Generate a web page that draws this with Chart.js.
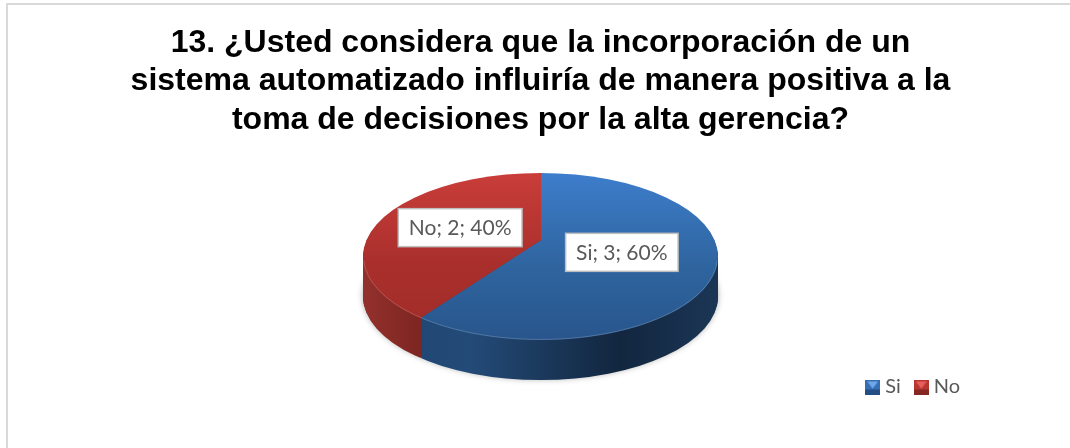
<!DOCTYPE html>
<html>
<head>
<meta charset="utf-8">
<title>13</title>
<script src="https://cdn.jsdelivr.net/npm/chart.js@4"></script>
<style>
  html, body { margin: 0; padding: 0; background: #fff; overflow: hidden; }
  #frame { position: absolute; left: 6px; top: 3px; right: 0; bottom: 0; border-left: 2px solid #d9d9d9; border-top: 2px solid #d9d9d9; }
  #wrap { position: absolute; left: 0; top: 0; width: 1070px; height: 448px; }
  canvas { display: block; }
</style>
</head>
<body>
<div id="frame"></div>
<div id="wrap"><canvas id="pie3d" width="1070" height="448"></canvas></div>
<script>
const categories = ["Si", "No"];
const values = [3, 2];
const percents = ["60%", "40%"];
const titleLines = [
  "13. ¿Usted considera que la incorporación de un",
  "sistema automatizado influiría de manera positiva a la",
  "toma de decisiones por la alta gerencia?"
];

// look of the tilted pie (page pixels)
const apex = { x: 541, y: 240 };   // where the slices meet, off centre because of the perspective
const face = { x: 540.5, y: 256.5, rx: 177.5, ry: 83.5 };
const tilt = 0.47;
const depth = 40;
const reach = 320;                 // slices overshoot and get clipped to the ellipse
const labelRadius = 85;

function ellipsePath(ctx, dy) {
  ctx.beginPath();
  ctx.ellipse(face.x, face.y + dy, face.rx, face.ry, 0, 0, Math.PI * 2);
}

function place(ctx, arc, dy) {
  const k = reach / arc.outerRadius;
  ctx.translate(apex.x, apex.y + dy);
  ctx.scale(k, k * tilt);
  ctx.translate(-arc.x, -arc.y);
}

function wallFill(ctx, arc, stops) {
  const k = reach / arc.outerRadius;
  const x0 = arc.x + (face.x - face.rx - apex.x) / k;
  const x1 = arc.x + (face.x + face.rx - apex.x) / k;
  const g = ctx.createLinearGradient(x0, 0, x1, 0);
  stops.forEach(s => g.addColorStop(s[0], s[1]));
  return g;
}

function faceFill(ctx, arc, stops) {
  const k = reach / arc.outerRadius;
  const y0 = arc.y + (face.y - face.ry - apex.y) / (k * tilt);
  const y1 = arc.y + (face.y + face.ry - apex.y) / (k * tilt);
  const g = ctx.createLinearGradient(0, y0, 0, y1);
  stops.forEach(s => g.addColorStop(s[0], s[1]));
  return g;
}

const wallStops = [
  [[0, "#1f4470"], [0.3, "#234b78"], [0.72, "#12263f"], [1, "#1b3655"]],
  [[0, "#93302c"], [0.17, "#7c2521"], [1, "#7c2521"]]
];
const faceStops = [
  [[0, "#3d7dcc"], [0.55, "#2f659f"], [1, "#28558c"]],
  [[0, "#c93d39"], [0.55, "#a92f2c"], [1, "#a02c29"]]
];

const pie3d = {
  id: "pie3d",
  beforeDatasetDraw(chart) {
    const ctx = chart.ctx;
    const arcs = chart.getDatasetMeta(0).data;

    // soft shadow below the pie
    ctx.save();
    ctx.shadowColor = "rgba(0,0,0,0.35)";
    ctx.shadowBlur = 6;
    ctx.fillStyle = "#1b3655";
    ellipsePath(ctx, depth - 1);
    ctx.fill();
    ctx.restore();

    // side wall, stacked from the bottom up
    for (let dy = depth; dy > 0; dy--) {
      arcs.forEach((arc, i) => {
        ctx.save();
        ellipsePath(ctx, dy);
        ctx.clip();
        place(ctx, arc, dy);
        arc.options.backgroundColor = wallFill(ctx, arc, wallStops[i]);
        arc.draw(ctx);
        ctx.restore();
      });
    }

    // top face
    arcs.forEach((arc, i) => {
      ctx.save();
      ellipsePath(ctx, 0);
      ctx.clip();
      place(ctx, arc, 0);
      arc.options.backgroundColor = faceFill(ctx, arc, faceStops[i]);
      arc.draw(ctx);
      ctx.restore();
    });

    // faint rim on the near edge
    ctx.save();
    ctx.strokeStyle = "rgba(255,255,255,0.18)";
    ctx.lineWidth = 1;
    ctx.beginPath();
    ctx.ellipse(face.x, face.y, face.rx - 0.5, face.ry - 0.5, 0, 0.05, Math.PI - 0.05);
    ctx.stroke();
    ctx.restore();

    // data labels
    ctx.save();
    ctx.font = "21px Lato";
    ctx.textAlign = "center";
    ctx.textBaseline = "middle";
    arcs.forEach((arc, i) => {
      const mid = (arc.startAngle + arc.endAngle) / 2;
      const x = apex.x + Math.cos(mid) * labelRadius;
      const y = apex.y + Math.sin(mid) * labelRadius * tilt;
      const text = categories[i] + "; " + values[i] + "; " + percents[i];
      const w = ctx.measureText(text).width + 21;
      const h = 38;
      ctx.fillStyle = "#fff";
      ctx.fillRect(x - w / 2, y - h / 2, w, h);
      ctx.strokeStyle = "#bfbfbf";
      ctx.lineWidth = 1.5;
      ctx.strokeRect(x - w / 2, y - h / 2, w, h);
      ctx.fillStyle = "#595959";
      ctx.fillText(text, x, y + 1);
    });
    ctx.restore();
    return false;
  }
};

// bevelled legend marker
function marker(light, mid, dark) {
  const c = document.createElement("canvas");
  c.width = 15;
  c.height = 15;
  const m = c.getContext("2d");
  m.fillStyle = mid;
  m.fillRect(0, 0, 15, 15);
  m.fillStyle = dark;
  m.fillRect(0, 10, 15, 5);
  m.fillStyle = light;
  m.beginPath();
  m.moveTo(2, 2);
  m.lineTo(13, 2);
  m.lineTo(7.5, 9);
  m.closePath();
  m.fill();
  return c;
}
const markers = [marker("#6fa8ea", "#356fb3", "#234f85"), marker("#e8605c", "#b83632", "#862724")];

new Chart(document.getElementById("pie3d"), {
  type: "pie",
  data: {
    labels: categories,
    datasets: [{ data: values, borderWidth: 0, backgroundColor: ["#356fb3", "#b83632"] }]
  },
  plugins: [pie3d],
  options: {
    responsive: false,
    animation: false,
    layout: { padding: { left: 103, right: 92, top: 0, bottom: 41 } },
    plugins: {
      tooltip: { enabled: false },
      title: {
        display: true,
        text: titleLines,
        color: "#000",
        font: { family: "Liberation Sans", size: 32, weight: "bold", lineHeight: 1.2 },
        padding: { top: 24, bottom: 10 }
      },
      legend: {
        position: "bottom",
        align: "end",
        labels: {
          font: { family: "Lato", size: 20 },
          color: "#595959",
          usePointStyle: true,
          pointStyleWidth: 5,
          padding: 18,
          generateLabels: () => categories.map((name, i) => ({
            text: name,
            pointStyle: markers[i],
            fontColor: "#595959",
            hidden: false,
            index: i
          }))
        }
      }
    }
  }
});
</script>
</body>
</html>
